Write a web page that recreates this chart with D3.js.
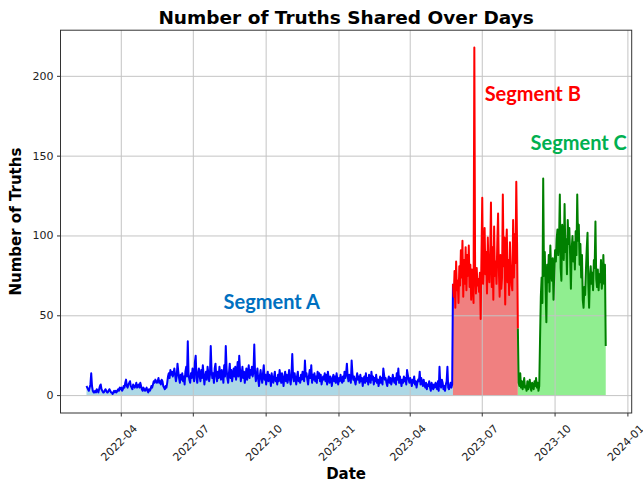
<!doctype html>
<html>
<head>
<meta charset="utf-8">
<title>Number of Truths Shared Over Days</title>
<script src="https://d3js.org/d3.v7.min.js"></script>
<style>
  body { margin: 0; background: #fff; }
  svg text { font-family: 'DejaVu Sans', sans-serif; }
  .tick-label { font-size: 11px; fill: #222; }
  .axis-title { font-size: 15px; font-weight: bold; fill: #000; }
  .seg-label { font-family: Lato, 'Open Sans', sans-serif; font-weight: bold; font-size: 20px; }
</style>
</head>
<body>
<svg width="643" height="483"></svg>
<script>
// daily number of truths, one value per day from the start date
var startA = "2022-02-16";
var valuesA = [
  6,5,4,3,5,7,14,6,3,2, 2,3,2,4,3,2,4,6,7,4, 3,2,2,3,4,3,2,2,3,4, 3,2,2,1,2,3,2,3,2,3,
  4,3,5,4,5,3,4,6,5,8, 10,6,5,7,8,9,6,5,4,7, 6,5,6,8,5,6,7,5,8,6, 4,3,5,4,3,4,5,3,2,4,
  3,4,6,5,7,9,8,10,9,8, 9,11,8,9,7,10,9,6,5,4, 6,5,8,12,14,11,16,13,15,12, 14,17,13,9,12,20,15,11,8,13,
  10,14,9,12,7,15,18,12,34,13, 10,8,14,11,17,12,9,21,25,11, 8,14,17,12,9,16,11,19,13,7, 12,15,10,18,14,9,13,31,16,11,
  14,8,17,20,12,9,15,11,18,13, 10,16,13,8,19,12,31,17,11,8, 14,20,11,16,9,13,17,12,18,10, 14,21,12,25,16,9,13,18,11,15,
  8,12,17,10,14,19,11,16,13,18, 12,15,32,14,9,13,17,10,6,12, 16,11,8,14,19,10,13,7,12,15, 9,13,11,6,14,10,8,12,15,9,
  11,7,13,9,16,12,8,14,10,6, 12,15,9,13,8,11,16,10,7,13, 26,12,9,14,10,7,12,15,9,11, 8,13,10,15,11,9,22,12,14,10,
  7,12,16,11,19,8,13,10,14,9, 12,8,15,11,14,9,13,7,10,12, 10,14,9,13,7,15,11,8,12,10, 6,11,13,9,12,8,14,10,7,11,
  9,13,10,8,12,9,15,11,14,20, 12,9,13,11,8,22,14,10,12,9, 7,11,14,10,12,8,13,9,11,6, 10,12,8,14,9,11,7,13,10,8,
  15,10,12,7,11,9,13,8,10,6, 9,12,8,11,7,17,13,10,11,8, 6,10,12,8,11,7,9,13,10,8, 11,7,14,10,17,8,12,9,6,10,
  8,12,9,11,7,16,13,10,8,11, 9,6,10,8,12,7,9,5,8,10, 9,15,7,11,8,6,10,7,5,8, 4,7,6,9,5,3,8,6,4,7,
  5,8,6,4,9,3,18,7,5,10, 8,4,6,3,7,9,18,5,4,6, 8,5,7,70
];
var startB = "2023-05-25";
var valuesB = [
  70,62,78,55,84,66,72,58,81,69, 91,74,97,62,85,70,93,66,88,75, 94,68,82,60,79,71,58,218,76,64,
  80,69,73,65,77,48,88,124,70,82, 105,76,90,64,99,80,71,86,121,68, 93,60,106,75,84,70,96,114,78,62,
  88,67,74,126,81,99,57,92,104,71, 85,63,96,78,69,66,110,74,101,83, 134,95,42
];
var startC = "2023-08-15";
var valuesC = [
  42,8,6,14,5,9,4,7,11,5, 6,3,9,4,7,10,5,3,8,6, 4,9,6,11,5,8,3,6, 35,62,74,58,
  136,75,90,68,46,82,71,88, 65,94,79,72,86,60,77,91,84,98, 104,88,96,126,80,72,107,95,85,120,
  90,98,76,110,95,105,88,67,92,100, 84,96,79,103,88,126,97,107,82,95, 74,88,60,55,68,63,79,92,102,70,
  55,74,81,70,77,66,85,80,109,73, 68,79,66,76,71,85,67,74,88,70, 82,31
];

var yTicks = [0, 50, 100, 150, 200];
var xTicks = ["2022-04-01", "2022-07-01", "2022-10-01", "2023-01-01", "2023-04-01", "2023-07-01", "2023-10-01", "2024-01-01"];
var segmentNames = ["Segment A", "Segment B", "Segment C"];

var parse = d3.utcParse("%Y-%m-%d");

function toPoints(start, values) {
  var d0 = parse(start);
  return values.map((v, i) => ({ date: d3.utcDay.offset(d0, i), value: v }));
}

var segments = [
  { name: segmentNames[0], pts: toPoints(startA, valuesA), line: "#0000ff", fill: "#add8e6", text: "#0070c0" },
  { name: segmentNames[1], pts: toPoints(startB, valuesB), line: "#ff0000", fill: "#f08080", text: "#ff0000" },
  { name: segmentNames[2], pts: toPoints(startC, valuesC), line: "#008000", fill: "#90ee90", text: "#00b050" }
];

var plot = { left: 60.5, right: 631.7, top: 30.2, bottom: 413 };

var allPts = segments.flatMap(s => s.pts);
var ext = d3.extent(allPts, d => d.date);
var pad = (ext[1] - ext[0]) * 0.05;
var x = d3.scaleUtc()
  .domain([new Date(+ext[0] - pad), new Date(+ext[1] + pad)])
  .range([plot.left, plot.right]);

var ymax = d3.max(allPts, d => d.value);
var y = d3.scaleLinear()
  .domain([-0.05 * ymax, ymax * 1.05])
  .range([plot.bottom, plot.top]);

var svg = d3.select("svg");

var area = d3.area().x(d => x(d.date)).y0(y(0)).y1(d => y(d.value));
var line = d3.line().x(d => x(d.date)).y(d => y(d.value));

// fills first
svg.selectAll("path.fill")
  .data(segments)
  .enter()
  .append("path")
  .attr("class", "fill")
  .attr("d", d => area(d.pts))
  .style("fill", d => d.fill);

// grid
var grid = svg.append("g").attr("stroke", "#c4c4c4").attr("stroke-width", 1);
grid.selectAll("line.gx")
  .data(xTicks)
  .enter()
  .append("line")
  .attr("x1", d => x(parse(d))).attr("x2", d => x(parse(d)))
  .attr("y1", plot.top).attr("y2", plot.bottom);
grid.selectAll("line.gy")
  .data(yTicks)
  .enter()
  .append("line")
  .attr("x1", plot.left).attr("x2", plot.right)
  .attr("y1", d => y(d)).attr("y2", d => y(d));

// lines
svg.selectAll("path.line")
  .data(segments)
  .enter()
  .append("path")
  .attr("class", "line")
  .attr("d", d => line(d.pts))
  .style("fill", "none")
  .style("stroke", d => d.line)
  .style("stroke-width", 2)
  .style("stroke-linejoin", "round");

// frame
svg.append("rect")
  .attr("x", plot.left).attr("y", plot.top)
  .attr("width", plot.right - plot.left).attr("height", plot.bottom - plot.top)
  .style("fill", "none").style("stroke", "#333").style("stroke-width", 1);

// x axis
var fmt = d3.utcFormat("%Y-%m");
var xt = svg.append("g").selectAll("g")
  .data(xTicks)
  .enter()
  .append("g")
  .attr("transform", d => "translate(" + x(parse(d)) + "," + plot.bottom + ")");
xt.append("line").attr("y2", 3.5).style("stroke", "#333");
xt.append("text")
  .attr("class", "tick-label")
  .attr("text-anchor", "middle")
  .attr("dominant-baseline", "central")
  .attr("transform", "translate(-2,30) rotate(-45)")
  .text(d => fmt(parse(d)));

// y axis
var yt = svg.append("g").selectAll("g")
  .data(yTicks)
  .enter()
  .append("g")
  .attr("transform", d => "translate(" + plot.left + "," + y(d) + ")");
yt.append("line").attr("x2", -3.5).style("stroke", "#333");
yt.append("text")
  .attr("class", "tick-label")
  .attr("x", -7)
  .attr("text-anchor", "end")
  .attr("dominant-baseline", "central")
  .text(d => d);

// titles
svg.append("text")
  .attr("x", (plot.left + plot.right) / 2)
  .attr("y", 24)
  .attr("text-anchor", "middle")
  .style("font-size", "18.5px")
  .style("font-weight", "bold")
  .text("Number of Truths Shared Over Days");

svg.append("text")
  .attr("class", "axis-title")
  .attr("x", (plot.left + plot.right) / 2)
  .attr("y", 479)
  .attr("text-anchor", "middle")
  .text("Date");

svg.append("text")
  .attr("class", "axis-title")
  .attr("transform", "translate(21," + (plot.top + plot.bottom) / 2 + ") rotate(-90)")
  .attr("text-anchor", "middle")
  .text("Number of Truths");

// segment annotations
var labelPos = [
  { date: "2022-10-08", value: 54, anchor: "middle" },
  { date: "2023-07-04", value: 184.5, anchor: "start" },
  { date: "2023-08-31", value: 154, anchor: "start" }
];
svg.selectAll("text.seg-label")
  .data(segments)
  .enter()
  .append("text")
  .attr("class", "seg-label")
  .attr("x", (d, i) => x(parse(labelPos[i].date)))
  .attr("y", (d, i) => y(labelPos[i].value))
  .attr("text-anchor", (d, i) => labelPos[i].anchor)
  .style("fill", d => d.text)
  .text(d => d.name);
</script>
</body>
</html>
